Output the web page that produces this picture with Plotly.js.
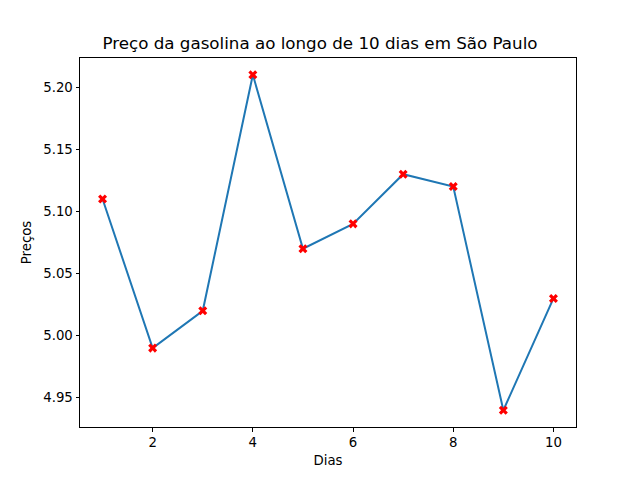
<!DOCTYPE html>
<html>
<head>
<meta charset="utf-8">
<script src="https://cdn.plot.ly/plotly-3.0.1.min.js"></script>
<style>html,body{margin:0;padding:0;background:#fff;}#chart{width:640px;height:480px;}</style>
</head>
<body>
<div id="chart"></div>
<script>
const dias = [1, 2, 3, 4, 5, 6, 7, 8, 9, 10];
const precos = [5.11, 4.99, 5.02, 5.21, 5.07, 5.09, 5.13, 5.12, 4.94, 5.03];
const xTicks = [2, 4, 6, 8, 10];
const yTicks = [4.95, 5.00, 5.05, 5.10, 5.15, 5.20];

const font = {family: 'DejaVu Sans', size: 13.3, color: '#000'};
const trace = {
  x: dias, y: precos, type: 'scatter', mode: 'lines+markers',
  line: {color: '#1f77b4', width: 2},
  marker: {symbol: 'x', color: 'red', size: 8, line: {width: 0}}
};
const axisCommon = {
  showgrid: false, zeroline: false, showline: true, mirror: true,
  linecolor: '#000', linewidth: 1, ticks: 'outside', ticklen: 3.5,
  tickwidth: 1, tickcolor: '#000', tickfont: font
};
const layout = {
  width: 640, height: 480,
  margin: {l: 80, r: 64, t: 58, b: 53},
  paper_bgcolor: '#fff', plot_bgcolor: '#fff',
  showlegend: false,
  font: font,
  title: {text: 'Preço da gasolina ao longo de 10 dias em São Paulo', font: {family: 'DejaVu Sans', size: 16.7, color: '#000'}, x: 0.5, xanchor: 'center', y: 1 - 43/480, yanchor: 'middle'},
  xaxis: Object.assign({}, axisCommon, {
    range: [0.55, 10.45], tickvals: xTicks, ticktext: xTicks.map(String),
    title: {text: 'Dias', font: font, standoff: 6}
  }),
  yaxis: Object.assign({}, axisCommon, {
    range: [4.9265, 5.2235], tickvals: yTicks, ticktext: yTicks.map(v => v.toFixed(2)),
    title: {text: 'Preços', font: font, standoff: 8}
  })
};
Plotly.newPlot('chart', [trace], layout, {displayModeBar: false, staticPlot: true});
</script>
</body>
</html>
